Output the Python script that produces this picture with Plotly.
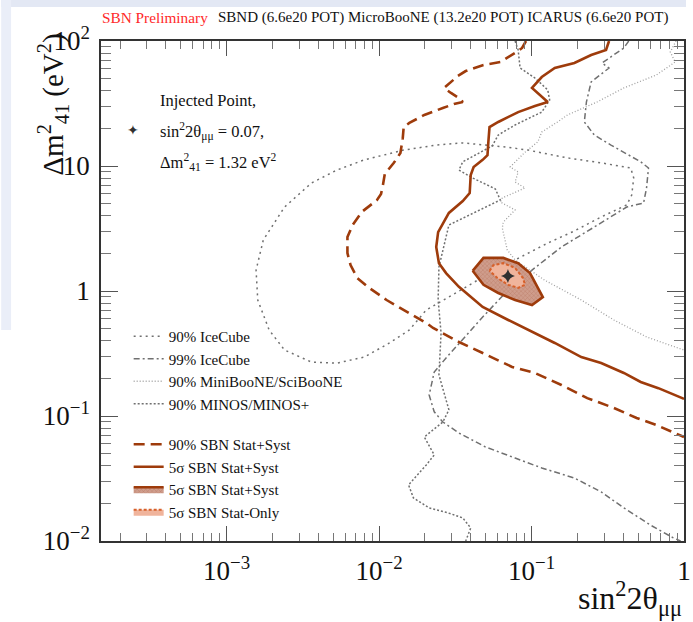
import plotly.graph_objects as go

# ---------------- data ----------------
# 90% SBN Stat+Syst (dashed)
sbn90_sin2 = [0.0920, 0.0867, 0.0817, 0.0624, 0.0484, 0.0370, 0.0329, 0.0301, 0.0267, 0.0296,
              0.0334, 0.0354, 0.0310, 0.0262, 0.0198, 0.0158, 0.0145, 0.0143, 0.0138, 0.0125,
              0.0109, 0.0106, 0.0103, 0.0097, 0.0077, 0.0067, 0.0062, 0.0062, 0.0065, 0.0072,
              0.0086, 0.0112, 0.0158, 0.0204, 0.0226, 0.0334, 0.0478, 0.0746, 0.105, 0.157,
              0.232, 0.347, 0.489, 0.659, 1.0]
sbn90_dm2 = [100, 87.9, 83.2, 67.9, 64.3, 57.5, 52.5, 47.9, 42.1, 38.4,
             35.0, 32.5, 31.3, 29.1, 25.6, 22.1, 20.5, 16.7, 12.7, 10.6,
             8.63, 7.05, 5.97, 5.35, 4.29, 3.37, 2.70, 2.01, 1.61, 1.27,
             1.06, 0.847, 0.667, 0.555, 0.506, 0.391, 0.319, 0.247, 0.221, 0.177,
             0.139, 0.116, 0.0964, 0.0847, 0.0679]

# 5 sigma SBN Stat+Syst (solid line)
sbn5s_sin2 = [0.3224, 0.308, 0.246, 0.191, 0.142, 0.1167, 0.1007, 0.1277, 0.1052, 0.0817,
              0.0605, 0.0530, 0.0521, 0.0514, 0.0478, 0.0417, 0.0399, 0.0393, 0.0354, 0.0287,
              0.0244, 0.0237, 0.0247, 0.0275, 0.0334, 0.0478, 0.0703, 0.105, 0.142, 0.212,
              0.286, 0.403, 0.520, 0.679, 1.0]
sbn5s_dm2 = [100, 84.7, 77.3, 66.7, 60.8, 51.5, 42.1, 32.5, 30.2, 27.0,
             22.5, 20.5, 15.6, 12.2, 11.2, 9.82, 8.47, 6.08, 5.25, 4.21,
             2.96, 2.25, 1.67, 1.39, 1.08, 0.745, 0.586, 0.461, 0.384, 0.296,
             0.265, 0.221, 0.187, 0.167, 0.137]

# 5 sigma SBN Stat+Syst (filled island, injected signal)
fill_syst_sin2 = [0.0411, 0.0484, 0.0653, 0.0817, 0.0977, 0.1186, 0.1007, 0.0780, 0.0605, 0.0484, 0.0411]
fill_syst_dm2 = [1.45, 1.84, 1.84, 1.67, 1.39, 0.895, 0.773, 0.847, 0.964, 1.12, 1.45]

# 5 sigma SBN Stat-Only (filled island)
fill_stat_sin2 = [0.0530, 0.0562, 0.0653, 0.0780, 0.0879, 0.0906, 0.0817, 0.0703, 0.0597, 0.0530]
fill_stat_dm2 = [1.45, 1.61, 1.67, 1.53, 1.27, 1.12, 1.06, 1.12, 1.27, 1.45]

# 90% IceCube
ic90_sin2 = [0.0499, 0.0673, 0.0948, 0.172, 0.286, 0.447, 0.468, 0.454, 0.421, 0.286,
             0.191, 0.128, 0.0780, 0.0478, 0.0287, 0.0204, 0.0158, 0.0117, 0.0080, 0.0053,
             0.0036, 0.0024, 0.0019, 0.0016, 0.00156, 0.00174, 0.0024, 0.0036, 0.0053, 0.0080,
             0.0145, 0.0237, 0.0354, 0.0499]
ic90_dm2 = [14.7, 14.2, 13.4, 11.6, 10.6, 9.64, 8.02, 5.86, 4.88, 3.91,
            3.02, 2.42, 1.77, 1.29, 0.895, 0.705, 0.488, 0.384, 0.296, 0.265,
            0.270, 0.337, 0.488, 0.847, 1.47, 2.56, 4.70, 7.31, 9.29, 11.2,
            13.4, 14.7, 15.3, 14.7]

# 99% IceCube
ic99_sin2 = [0.434, 0.403, 0.290, 0.322, 0.246, 0.229, 0.222, 0.258, 0.332, 0.520,
             0.585, 0.568, 0.543, 0.421, 0.258, 0.157, 0.1007, 0.0673, 0.0478, 0.0334,
             0.0275, 0.0230, 0.0213, 0.0230, 0.0262, 0.0334, 0.0499, 0.0780, 0.1167, 0.191,
             0.286, 0.403, 0.603, 0.850, 0.95]
ic99_dm2 = [100, 87.9, 66.7, 60.8, 47.0, 32.5, 22.5, 17.7, 14.7, 10.8,
            9.64, 6.67, 5.06, 4.70, 3.25, 2.25, 1.47, 0.964, 0.619, 0.384,
            0.291, 0.225, 0.147, 0.108, 0.0895, 0.0731, 0.0565, 0.0461, 0.0384, 0.0319,
            0.0247, 0.0184, 0.0134, 0.0106, 0.01]

# 90% MiniBooNE/SciBooNE
mb_sin2 = [0.887, 0.813, 0.875, 0.659, 0.403, 0.269, 0.172, 0.148, 0.1167, 0.110,
           0.0906, 0.0724, 0.0817, 0.0780, 0.0906, 0.0643, 0.0624, 0.0780, 0.0653, 0.0643,
           0.0693, 0.0780, 0.122, 0.212, 0.347, 0.568, 1.0]
mb_dm2 = [100, 81.7, 67.9, 53.5, 42.1, 32.5, 25.6, 22.5, 18.7, 15.6,
          12.9, 9.82, 8.95, 7.45, 6.67, 5.55, 5.15, 4.45, 3.56, 3.19,
          2.13, 1.77, 1.22, 0.847, 0.586, 0.429, 0.337]

# 90% MINOS/MINOS+
minos_sin2 = [0.0780, 0.0817, 0.0841, 0.1052, 0.1277, 0.1315, 0.1167, 0.0780, 0.0605, 0.0553,
              0.0354, 0.0334, 0.0411, 0.0579, 0.0624, 0.0430, 0.0287, 0.0247, 0.0244, 0.0255,
              0.0247, 0.0287, 0.0262, 0.0198, 0.0230, 0.0204, 0.0156, 0.0168, 0.0213, 0.0287,
              0.0354, 0.0399, 0.0370]
minos_dm2 = [100, 84.7, 60.8, 50.6, 40.6, 33.7, 27.0, 21.3, 17.7, 14.5,
             10.8, 9.29, 8.02, 6.55, 5.35, 4.29, 3.37, 1.56, 0.847, 0.461,
             0.213, 0.112, 0.0895, 0.0679, 0.0488, 0.0406, 0.0281, 0.0221, 0.0184, 0.0167,
             0.0153, 0.0127, 0.01]

# injected point
inj_sin2 = [0.07]
inj_dm2 = [1.32]

x_tickvals = [1e-3, 1e-2, 1e-1, 1]
x_ticktext = ["10<sup>\u22123</sup>", "10<sup>\u22122</sup>", "10<sup>\u22121</sup>", "1"]
y_tickvals = [1e-2, 1e-1, 1, 10, 100]
y_ticktext = ["10<sup>\u22122</sup>", "10<sup>\u22121</sup>", "1", "10", "10<sup>2</sup>"]

# ---------------- styling ----------------
FONT = "Liberation Serif"
BROWN = "#9e3b0b"
GRAY = "#707070"

fig = go.Figure()

fig.add_trace(go.Scatter(x=ic90_sin2, y=ic90_dm2, mode="lines", name="90% IceCube",
                         legendgroup="ext",
                         line=dict(color=GRAY, width=1.5, dash="2px,4px")))
fig.add_trace(go.Scatter(x=ic99_sin2, y=ic99_dm2, mode="lines", name="99% IceCube",
                         legendgroup="ext",
                         line=dict(color=GRAY, width=1.5, dash="6px,3px,2px,3px")))
fig.add_trace(go.Scatter(x=mb_sin2, y=mb_dm2, mode="lines", name="90% MiniBooNE/SciBooNE",
                         legendgroup="ext",
                         line=dict(color="#a0a0a0", width=1.3, dash="1px,2px")))
fig.add_trace(go.Scatter(x=minos_sin2, y=minos_dm2, mode="lines", name="90% MINOS/MINOS+",
                         legendgroup="ext",
                         line=dict(color=GRAY, width=1.5, dash="2px,2px")))

fig.add_trace(go.Scatter(x=sbn90_sin2, y=sbn90_dm2, mode="lines", name="90% SBN Stat+Syst",
                         legendgroup="sbn",
                         line=dict(color=BROWN, width=2.6, dash="11px,6px")))
fig.add_trace(go.Scatter(x=sbn5s_sin2, y=sbn5s_dm2, mode="lines", name="5\u03c3 SBN Stat+Syst",
                         legendgroup="sbn",
                         line=dict(color=BROWN, width=2.6)))
fig.add_trace(go.Scatter(x=fill_syst_sin2, y=fill_syst_dm2, mode="lines", name="5\u03c3 SBN Stat+Syst",
                         legendgroup="sbn", fill="toself", fillcolor="#c48e7c",
                         fillpattern=dict(shape="x", size=3, solidity=0.25,
                                          fgcolor="#a55a40", bgcolor="#cf9d8c", fillmode="overlay"),
                         line=dict(color=BROWN, width=2.6)))
fig.add_trace(go.Scatter(x=fill_stat_sin2, y=fill_stat_dm2, mode="lines", name="5\u03c3 SBN Stat-Only",
                         legendgroup="sbn", fill="toself", fillcolor="#f0b49c",
                         line=dict(color="#d7602a", width=2, dash="3px,2px")))

fig.add_trace(go.Scatter(x=inj_sin2, y=inj_dm2, mode="markers", showlegend=False,
                         marker=dict(symbol="star-diamond", size=10, color="#303030",
                                     line=dict(width=0))))

# ---------------- layout ----------------
PW, PH, L, T = 590.0, 500.0, 101.0, 41.0


def px(xp):
    return (xp - L) / PW


def py(yp):
    return (T + PH - yp) / PH


annotations = [
    dict(text="SBN Preliminary", x=px(100), y=py(18), xanchor="left", yanchor="middle",
         font=dict(family=FONT, size=15.3, color="#ff2a2a")),
    dict(text="SBND (6.6e20 POT) MicroBooNE (13.2e20 POT) ICARUS (6.6e20 POT)",
         x=px(217), y=py(18), xanchor="left", yanchor="middle",
         font=dict(family=FONT, size=15, color="#111111")),
    dict(text="Injected Point,", x=px(159), y=py(100), xanchor="left", yanchor="middle",
         font=dict(family=FONT, size=16.5, color="#111111")),
    dict(text="sin<sup>2</sup>2\u03b8<sub>\u03bc\u03bc</sub> = 0.07,", x=px(159), y=py(131),
         xanchor="left", yanchor="middle", font=dict(family=FONT, size=16.5, color="#111111")),
    dict(text="\u0394m<sup>2</sup><sub>41</sub> = 1.32 eV<sup>2</sup>", x=px(159), y=py(162),
         xanchor="left", yanchor="middle", font=dict(family=FONT, size=16.5, color="#111111")),
    dict(text="\u2726", x=px(133), y=py(130), xanchor="center", yanchor="middle",
         font=dict(family="DejaVu Sans", size=14, color="#303030")),
    dict(text="\u0394m<sup>2</sup><sub>41</sub> (eV<sup>2</sup>)", textangle=-90,
         x=px(52), y=py(32), xanchor="center", yanchor="top",
         font=dict(family=FONT, size=29, color="#111111")),
    dict(text="sin<sup>2</sup>2\u03b8<sub>\u03bc\u03bc</sub>", x=px(691), y=py(598),
         xanchor="right", yanchor="middle",
         font=dict(family=FONT, size=32, color="#111111")),
]
for a in annotations:
    a.update(xref="paper", yref="paper", showarrow=False)

shapes = [
    dict(type="rect", xref="paper", yref="paper", x0=px(0), x1=px(693), y0=py(7), y1=py(0),
         fillcolor="#e3e8f4", line=dict(width=0), layer="below"),
    dict(type="rect", xref="paper", yref="paper", x0=px(0), x1=px(10), y0=py(330), y1=py(0),
         fillcolor="#eaeef8", line=dict(width=0), layer="below"),
]

x_minor = [d * 10.0 ** e for e in range(-4, 0) for d in range(2, 10)]
y_minor = [d * 10.0 ** e for e in range(-2, 2) for d in range(2, 10)]

fig.update_layout(
    width=693, height=622, autosize=False,
    margin=dict(l=101, r=2, t=41, b=81),
    paper_bgcolor="white", plot_bgcolor="white",
    font=dict(family=FONT, color="#111111"),
    annotations=annotations, shapes=shapes,
    legend=dict(x=px(129), y=py(320), xanchor="left", yanchor="top",
                bgcolor="rgba(0,0,0,0)", traceorder="grouped", tracegroupgap=18,
                font=dict(family=FONT, size=15, color="#111111"), itemwidth=30),
    xaxis=dict(type="log", range=[-3.824, 0.0], showgrid=False, zeroline=False,
               showline=True, linecolor="#333333", linewidth=1.5, mirror="allticks",
               ticks="inside", ticklen=15, tickwidth=1.3, tickcolor="#555555",
               tickmode="array", tickvals=x_tickvals, ticktext=x_ticktext,
               tickfont=dict(family=FONT, size=27, color="#111111"), ticklabelstandoff=5,
               ticklabeloverflow="allow",
               minor=dict(ticks="inside", ticklen=8, tickwidth=1.2, tickcolor="#777777",
                          tickmode="array", tickvals=x_minor, showgrid=False)),
    yaxis=dict(type="log", range=[-2.0, 2.0], showgrid=False, zeroline=False,
               showline=True, linecolor="#333333", linewidth=1.5, mirror="allticks",
               ticks="inside", ticklen=17, tickwidth=1.3, tickcolor="#555555",
               tickmode="array", tickvals=y_tickvals, ticktext=y_ticktext,
               tickfont=dict(family=FONT, size=27, color="#111111"), ticklabelstandoff=4,
               ticklabeloverflow="allow",
               minor=dict(ticks="inside", ticklen=10, tickwidth=1.2, tickcolor="#777777",
                          tickmode="array", tickvals=y_minor, showgrid=False)),
)

fig.write_html("out.html")
